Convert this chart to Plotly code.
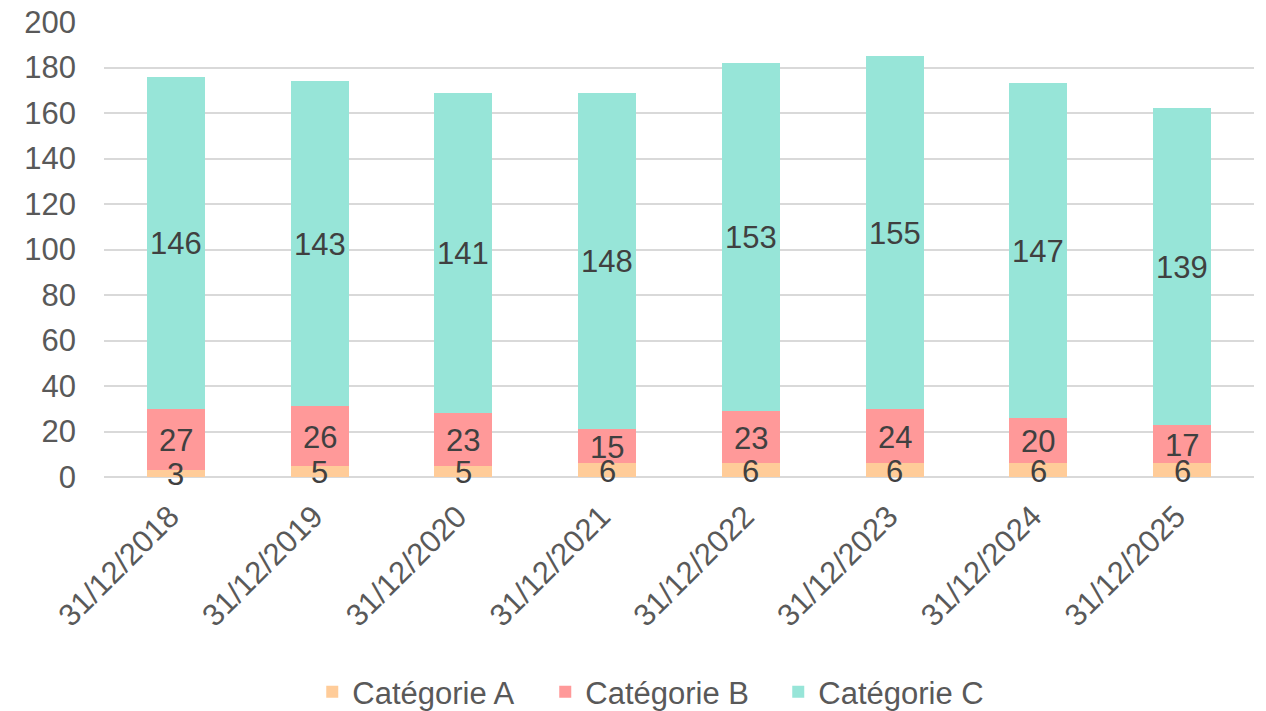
import plotly.graph_objects as go

# Stacked yearly counts per category
dates = ["31/12/2018", "31/12/2019", "31/12/2020", "31/12/2021",
         "31/12/2022", "31/12/2023", "31/12/2024", "31/12/2025"]
cat_a = [3, 5, 5, 6, 6, 6, 6, 6]
cat_b = [27, 26, 23, 15, 23, 24, 20, 17]
cat_c = [146, 143, 141, 148, 153, 155, 147, 139]
y_ticks = [0, 20, 40, 60, 80, 100, 120, 140, 160, 180, 200]

FONT = "Liberation Sans, Arial, sans-serif"
FS = 31
series = [
    ("Catégorie A", cat_a, "#FFCC99"),
    ("Catégorie B", cat_b, "#FF9999"),
    ("Catégorie C", cat_c, "#97E5D8"),
]

fig = go.Figure()

# bars
for name, vals, color in series:
    fig.add_trace(go.Bar(
        x=dates, y=vals, name=name,
        marker=dict(color=color, line=dict(width=0)),
        hoverinfo="skip",
    ))

# value labels centred on each segment, drawn above all bars
base = [0] * len(dates)
for name, vals, color in series:
    for d, b, v in zip(dates, base, vals):
        fig.add_annotation(
            x=d, y=b + v / 2, text=str(v), showarrow=False,
            xanchor="center", yanchor="middle", yshift=-1,
            font=dict(family=FONT, size=FS, color="#404040"),
        )
    base = [b + v for b, v in zip(base, vals)]

fig.update_layout(
    barmode="stack",
    bargap=0.597,
    width=1266, height=711,
    margin=dict(l=104, r=12, t=22, b=234, autoexpand=False),
    paper_bgcolor="white", plot_bgcolor="white",
    font=dict(family=FONT, size=FS, color="#595959"),
    showlegend=True,
    legend=dict(
        orientation="h", x=0.485, xanchor="center", y=-0.473, yanchor="middle",
        font=dict(family=FONT, size=FS, color="#595959"),
        traceorder="normal", itemwidth=30, entrywidth=188,
    ),
    xaxis=dict(
        tickangle=-45, showgrid=False, showline=False, ticks="",
        automargin=False, ticklabelstandoff=14, ticklabelshift=-6,
        tickfont=dict(family=FONT, size=FS, color="#595959"),
    ),
    yaxis=dict(
        range=[0, 200], tickvals=y_ticks, showgrid=True,
        gridcolor="#D9D9D9", gridwidth=1.5, zeroline=True,
        zerolinecolor="#D9D9D9", zerolinewidth=1.5, showline=False,
        ticks="", ticklabelstandoff=27, automargin=False,
        tickfont=dict(family=FONT, size=FS, color="#595959"),
    ),
)

fig.write_html("out.html")
